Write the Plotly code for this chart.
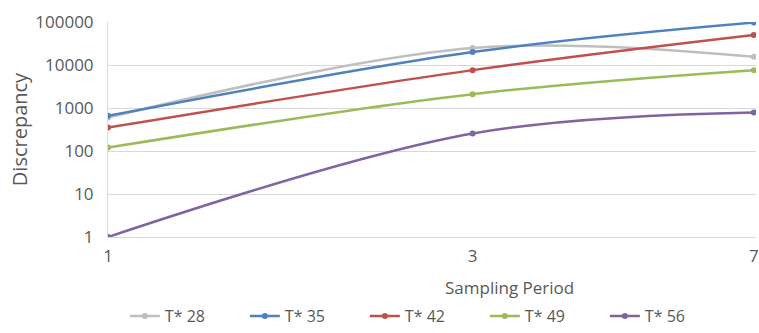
import plotly.graph_objects as go

periods = [1, 3, 7]
series_names = ["T* 28", "T* 35", "T* 42", "T* 49", "T* 56"]
t28 = [600, 25000, 15500]
t35 = [660, 20000, 97000]
t42 = [350, 7600, 50000]
t49 = [120, 2100, 7600]
t56 = [1, 255, 790]
colors = ["#BFBFBF", "#4F81BD", "#C0504D", "#9BBB59", "#8064A2"]

y_ticks = [1, 10, 100, 1000, 10000, 100000]
y_ticktext = ["1", "10", "100", "1000", "10000", "100000"]
x_ticks = [1, 3, 7]

font_family = "Open Sans"
text_color = "#595959"

fig = go.Figure()
for name, vals, col in zip(series_names, [t28, t35, t42, t49, t56], colors):
    fig.add_trace(go.Scatter(
        x=periods, y=vals, name=name, mode="lines+markers",
        line=dict(color=col, width=2.5, shape="spline", smoothing=1.0),
        marker=dict(color=col, size=6),
    ))

fig.update_layout(
    width=759, height=333,
    margin=dict(l=108, r=0, t=22, b=96),
    plot_bgcolor="white", paper_bgcolor="white",
    font=dict(family=font_family, size=16, color=text_color),
    showlegend=True,
    legend=dict(orientation="h", x=0.026, xanchor="left",
                yref="container", y=-0.05, yanchor="bottom",
                entrywidth=75, entrywidthmode="pixels",
                font=dict(size=16, color=text_color)),
    xaxis=dict(type="log", range=[0, 0.848], tickvals=x_ticks,
               ticktext=[str(v) for v in x_ticks],
               showgrid=False, showline=True, linecolor="#D9D9D9", linewidth=1,
               ticks="", tickfont=dict(size=17, color=text_color),
               ticklabelstandoff=4, ticklabeloverflow="allow", zeroline=False),
    yaxis=dict(type="log", range=[0, 5], tickvals=y_ticks, ticktext=y_ticktext,
               showgrid=True, gridcolor="#D9D9D9", gridwidth=1,
               showline=True, linecolor="#D9D9D9", linewidth=1,
               ticks="", tickfont=dict(size=17, color=text_color),
               ticklabelstandoff=10, zeroline=False,
               title=dict(text="Discrepancy", font=dict(size=20, color=text_color), standoff=2)),
    annotations=[dict(text="Sampling Period", xref="paper", yref="paper",
                      x=0.619, y=-0.235, xanchor="center", yanchor="middle",
                      showarrow=False, font=dict(size=17, color=text_color))],
)

fig.write_html("out.html")
